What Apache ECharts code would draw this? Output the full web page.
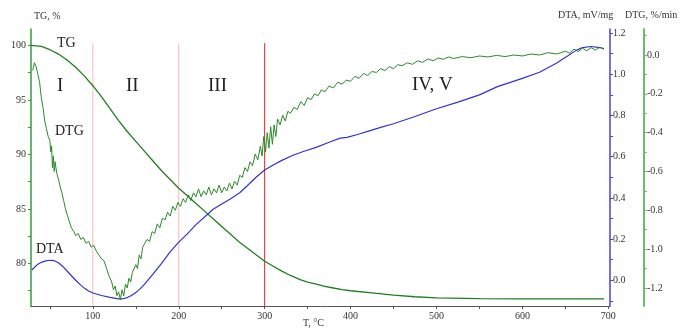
<!DOCTYPE html>
<html><head><meta charset="utf-8">
<script src="https://cdn.jsdelivr.net/npm/echarts@6/dist/echarts.min.js"></script>
<style>html,body{margin:0;padding:0;background:#fff}#c{width:689px;height:330px}</style>
</head><body><div id="c"></div>
<script>
// Temperature axis ticks / labels
var tempTicks = [50,100,150,200,250,300,350,400,450,500,550,600,650,700];
var tempLabels = [100,200,300,400,500,600,700];
var tgTicks = [77.5,80,82.5,85,87.5,90,92.5,95,97.5,100];
var tgLabels = [80,85,90,95,100];
var dtaTicks = [-0.1,0,0.1,0.2,0.3,0.4,0.5,0.6,0.7,0.8,0.9,1.0,1.1,1.2];
var dtaLabels = [0,0.2,0.4,0.6,0.8,1.0,1.2];
var dtgTicks = [-1.3,-1.2,-1.1,-1.0,-0.9,-0.8,-0.7,-0.6,-0.5,-0.4,-0.3,-0.2,-0.1,0,0.1];
var dtgLabels = [-1.2,-1.0,-0.8,-0.6,-0.4,-0.2,0];

// TG, %
var tgT = [28,40,50,60,70,80,90,100,110,120,130,140,150,160,170,180,190,200,210,220,230,240,250,260,270,280,290,300,310,320,330,342,350,360,370,380,390,400,425,450,475,500,550,600,650,695];
var tgV = [100.0,99.9,99.6,99.2,98.65,98.0,97.2,96.3,95.3,94.2,93.1,92.1,91.2,90.3,89.4,88.5,87.7,86.9,86.2,85.5,84.8,84.1,83.4,82.7,82.0,81.4,80.8,80.2,79.75,79.3,78.9,78.5,78.3,78.1,77.9,77.75,77.6,77.5,77.3,77.1,76.95,76.85,76.78,76.75,76.75,76.75];

// DTA, mV/mg
var dtaT = [29,35,40,45,50,55,60,65,70,75,80,85,90,95,100,110,120,130,135,140,145,150,155,160,170,180,190,200,210,220,233,240,250,260,271,280,290,300,310,320,333,345,360,375,388,396,410,420,435,450,475,500,525,550,571,600,620,640,653,662,670,680,690,695];
var dtaV = [0.05,0.075,0.087,0.094,0.097,0.095,0.085,0.067,0.045,0.022,0.0,-0.02,-0.038,-0.052,-0.062,-0.074,-0.083,-0.09,-0.09,-0.084,-0.074,-0.06,-0.042,-0.02,0.03,0.082,0.138,0.185,0.225,0.27,0.318,0.345,0.37,0.395,0.425,0.46,0.5,0.535,0.56,0.582,0.607,0.625,0.645,0.67,0.69,0.694,0.71,0.723,0.742,0.76,0.795,0.833,0.865,0.9,0.94,0.98,1.01,1.055,1.09,1.115,1.13,1.135,1.13,1.125];

// DTG, %/min
var dtgT = [30,32,34,36,38,40,42,44,46,48,50,51,52,53,54,55,56,58,60,62,64,66,68,70,72,75,78,80,83,86,89,92,95,98,101,104,107,110,113,116,119,122,124,126,128,130,132,134,136,138,140,142,144,146,148,150,152,154,156,158,160,163,166,169,172,175,178,181,184,187,190,193,196,199,202,205,208,211,214,217,220,223,226,229,232,235,238,241,244,247,250,253,256,259,262,265,268,271,274,277,280,283,286,289,292,295,297,299,301,303,305,307,309,311,313,315,318,321,324,327,330,334,338,342,346,350,354,358,362,366,370,375,380,385,390,395,400,405,410,415,420,425,430,435,440,445,450,455,460,466,472,478,484,490,496,502,508,514,520,530,540,550,560,570,580,590,600,610,620,630,640,650,655,660,665,670,675,680,685,690,695];
var dtgV = [-0.08,-0.04,-0.06,-0.10,-0.14,-0.22,-0.27,-0.34,-0.38,-0.42,-0.44,-0.50,-0.47,-0.58,-0.52,-0.60,-0.55,-0.61,-0.64,-0.68,-0.71,-0.75,-0.79,-0.82,-0.85,-0.89,-0.91,-0.93,-0.92,-0.95,-0.94,-0.97,-0.96,-0.99,-0.98,-1.01,-1.03,-1.05,-1.06,-1.10,-1.14,-1.17,-1.21,-1.19,-1.24,-1.22,-1.26,-1.21,-1.24,-1.18,-1.20,-1.15,-1.17,-1.12,-1.13,-1.08,-1.10,-1.03,-1.05,-0.99,-1.00,-0.95,-0.96,-0.91,-0.92,-0.87,-0.89,-0.84,-0.85,-0.81,-0.83,-0.78,-0.80,-0.76,-0.78,-0.74,-0.76,-0.72,-0.75,-0.71,-0.73,-0.69,-0.73,-0.70,-0.72,-0.68,-0.72,-0.69,-0.71,-0.67,-0.71,-0.68,-0.70,-0.66,-0.69,-0.65,-0.67,-0.62,-0.63,-0.58,-0.60,-0.55,-0.57,-0.51,-0.54,-0.47,-0.52,-0.42,-0.50,-0.40,-0.48,-0.37,-0.46,-0.36,-0.42,-0.33,-0.36,-0.31,-0.34,-0.29,-0.30,-0.27,-0.28,-0.24,-0.26,-0.22,-0.23,-0.20,-0.21,-0.18,-0.19,-0.16,-0.17,-0.14,-0.15,-0.13,-0.135,-0.11,-0.12,-0.095,-0.105,-0.085,-0.09,-0.07,-0.08,-0.06,-0.07,-0.05,-0.055,-0.04,-0.048,-0.03,-0.038,-0.02,-0.03,-0.015,-0.022,-0.01,-0.018,-0.008,-0.014,-0.005,-0.01,-0.002,-0.008,0.0,-0.005,0.005,0.0,0.012,0.005,0.02,0.01,0.03,0.018,0.035,0.022,0.038,0.025,0.04,0.03];

// Stage boundaries (°C)
var stageT = [100, 200, 300];
var stageColors = ['#f7b8b8', '#f7b8b8', '#e82020'];
var stageLabels = ['I', 'II', 'III', 'IV, V'];

function zip(a, b) { return a.map(function (v, i) { return [v, b[i]]; }); }

var serif = 'Liberation Serif';
var TGMIN = 76.1, TGMAX = 101.5;

var series = [
  { type: 'line', name: 'TG', xAxisIndex: 0, yAxisIndex: 0, data: zip(tgT, tgV), smooth: false, showSymbol: false,
    lineStyle: { color: '#1f7f1f', width: 1.3 }, z: 3 },
  { type: 'line', name: 'DTA', xAxisIndex: 0, yAxisIndex: 1, data: zip(dtaT, dtaV), smooth: false, showSymbol: false,
    lineStyle: { color: '#3333cc', width: 1.2 }, z: 3 },
  { type: 'line', name: 'DTG', xAxisIndex: 0, yAxisIndex: 2, data: zip(dtgT, dtgV), smooth: false, showSymbol: false,
    lineStyle: { color: '#2a8a2a', width: 1 }, z: 4 }
];
stageT.forEach(function (t, i) {
  series.push({ type: 'line', xAxisIndex: 0, yAxisIndex: 0, data: [[t, TGMIN], [t, 100.2]], showSymbol: false,
    lineStyle: { color: stageColors[i], width: 1 }, z: 1, silent: true });
});

var chart = echarts.init(document.getElementById('c'));
chart.setOption({
  animation: false,
  backgroundColor: '#fff',
  grid: { left: 31, right: 79, top: 29, bottom: 24 },
  xAxis: [{
    type: 'value', min: 28, max: 702,
    axisLine: { show: true, onZero: false, lineStyle: { color: '#555', width: 1 } },
    axisTick: { show: true, customValues: tempTicks, length: 3, lineStyle: { color: '#555' } },
    axisLabel: { customValues: tempLabels, fontFamily: serif, fontSize: 10, color: '#333', margin: 5 },
    splitLine: { show: false }
  }],
  yAxis: [
    { type: 'value', min: TGMIN, max: TGMAX, position: 'left',
      axisLine: { show: true, onZero: false, lineStyle: { color: '#3a9a3a', width: 1.5 } },
      axisTick: { show: true, customValues: tgTicks, length: 3, lineStyle: { color: '#3a9a3a' } },
      axisLabel: { customValues: tgLabels, fontFamily: serif, fontSize: 10, color: '#333', margin: 5 },
      splitLine: { show: false } },
    { type: 'value', min: -0.125, max: 1.22, position: 'right', offset: 0,
      axisLine: { show: true, onZero: false, lineStyle: { color: '#4444cc', width: 1.5 } },
      axisTick: { show: true, customValues: dtaTicks, length: 3, lineStyle: { color: '#4444cc' } },
      axisLabel: { customValues: dtaLabels, fontFamily: serif, fontSize: 10, color: '#333', margin: 3,
        formatter: function (v) { return v.toFixed(1); } },
      splitLine: { show: false } },
    { type: 'value', min: -1.293, max: 0.134, position: 'right', offset: 34,
      axisLine: { show: true, onZero: false, lineStyle: { color: '#6dbb6d', width: 2 } },
      axisTick: { show: true, customValues: dtgTicks, length: 3, lineStyle: { color: '#6dbb6d' } },
      axisLabel: { customValues: dtgLabels, fontFamily: serif, fontSize: 10, color: '#333', margin: 3,
        formatter: function (v) { return v.toFixed(1); } },
      splitLine: { show: false } }
  ],
  series: series,
  graphic: [
    { type: 'text', left: 34, top: 11, style: { text: 'TG, %', font: '10px ' + serif, fill: '#333' } },
    { type: 'text', left: 558, top: 10, style: { text: 'DTA, mV/mg', font: '10px ' + serif, fill: '#333' } },
    { type: 'text', left: 625, top: 10, style: { text: 'DTG, %/min', font: '10px ' + serif, fill: '#333' } },
    { type: 'text', left: 303, top: 318, style: { text: 'T, °C', font: '10px ' + serif, fill: '#333' } },
    { type: 'text', left: 57, top: 36, style: { text: 'TG', font: '14px ' + serif, fill: '#222' } },
    { type: 'text', left: 55, top: 124, style: { text: 'DTG', font: '14px ' + serif, fill: '#222' } },
    { type: 'text', left: 36, top: 242, style: { text: 'DTA', font: '14px ' + serif, fill: '#222' } },
    { type: 'text', left: 57, top: 77, style: { text: stageLabels[0], font: '19px ' + serif, fill: '#222' } },
    { type: 'text', left: 126, top: 77, style: { text: stageLabels[1], font: '19px ' + serif, fill: '#222' } },
    { type: 'text', left: 208, top: 77, style: { text: stageLabels[2], font: '19px ' + serif, fill: '#222' } },
    { type: 'text', left: 412, top: 76, style: { text: stageLabels[3], font: '19px ' + serif, fill: '#222' } }
  ]
});
</script></body></html>
